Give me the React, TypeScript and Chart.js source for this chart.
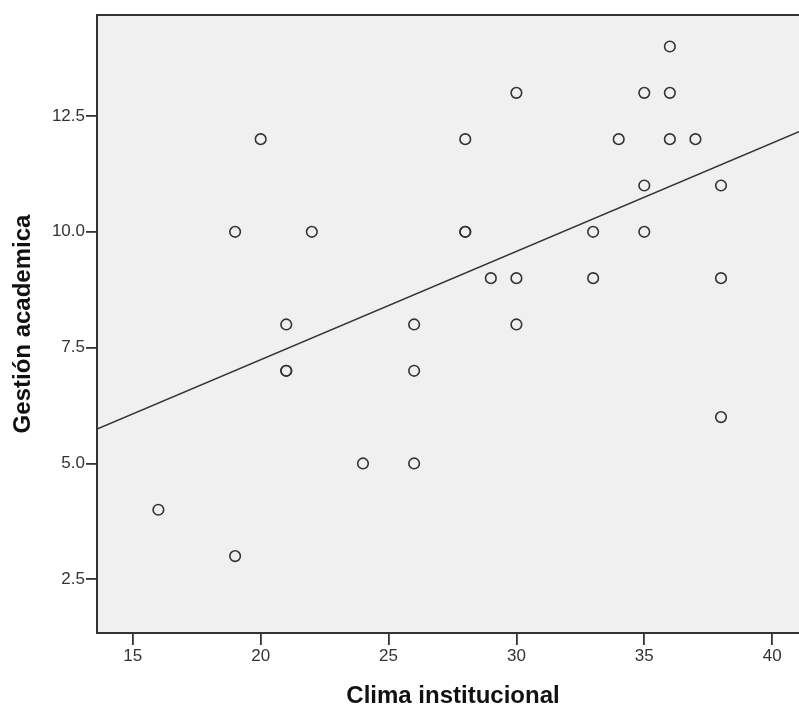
import React, { useEffect, useRef } from "react";
import { Chart, registerables } from "chart.js";

Chart.register(...registerables);

const climaValues = [16, 19, 19, 20, 21, 21, 21, 22, 24, 26, 26, 26, 28, 28, 28, 29, 30, 30, 30, 33, 33, 34, 35, 35, 35, 36, 36, 36, 37, 38, 38, 38];
const gestionValues = [4, 3, 10, 12, 8, 7, 7, 10, 5, 8, 7, 5, 12, 10, 10, 9, 13, 9, 8, 10, 9, 12, 13, 11, 10, 14, 13, 12, 12, 11, 9, 6];
const xTickValues = [15, 20, 25, 30, 35, 40];
const yTickValues = [2.5, 5.0, 7.5, 10.0, 12.5];
const xTitle = "Clima institucional";
const yTitle = "Gestión academica";
const xMin = 13.6;
const xMax = 41.05;
const yMin = 1.34;
const yMax = 14.68;

function fitLine(xs: number[], ys: number[]) {
  const n = xs.length;
  const mx = xs.reduce((a, b) => a + b, 0) / n;
  const my = ys.reduce((a, b) => a + b, 0) / n;
  let sxy = 0, sxx = 0;
  for (let i = 0; i < n; i++) {
    sxy += (xs[i] - mx) * (ys[i] - my);
    sxx += (xs[i] - mx) * (xs[i] - mx);
  }
  const slope = sxy / sxx;
  return { slope, intercept: my - slope * mx };
}

const plotFrame = {
  id: "plotFrame",
  beforeDraw(chart: any) {
    const { ctx, chartArea: a } = chart;
    ctx.save();
    ctx.fillStyle = "#f0f0f0";
    ctx.fillRect(a.left, a.top, a.right - a.left, a.bottom - a.top);
    ctx.restore();
  },
  afterDatasetsDraw(chart: any) {
    const { ctx, chartArea: a } = chart;
    ctx.save();
    ctx.strokeStyle = "#333333";
    ctx.lineWidth = 2;
    ctx.beginPath();
    ctx.moveTo(a.right + 2, a.top);
    ctx.lineTo(a.left, a.top);
    ctx.lineTo(a.left, a.bottom);
    ctx.lineTo(a.right + 2, a.bottom);
    ctx.stroke();
    ctx.restore();
  },
  afterDraw(chart: any) {
    const { ctx, chartArea: a } = chart;
    ctx.save();
    ctx.fillStyle = "#111111";
    ctx.font = "bold 24px Arial, 'Liberation Sans'";
    ctx.textAlign = "center";
    ctx.textBaseline = "alphabetic";
    ctx.fillText(xTitle, (a.left + a.right) / 2 + 5, chart.height - 2);
    ctx.restore();
  },
};

export default function App() {
  const ref = useRef<HTMLCanvasElement | null>(null);
  useEffect(() => {
    if (!ref.current) return;
    const { slope, intercept } = fitLine(climaValues, gestionValues);
    const points = climaValues.map((x, i) => ({ x, y: gestionValues[i] }));
    const chart = new Chart(ref.current, {
      type: "scatter",
      data: {
        datasets: [
          {
            type: "line",
            data: [
              { x: xMin, y: intercept + slope * xMin },
              { x: xMax, y: intercept + slope * xMax },
            ],
            borderColor: "#333333",
            borderWidth: 1.5,
            pointRadius: 0,
            fill: false,
          } as any,
          {
            data: points,
            backgroundColor: "rgba(0,0,0,0)",
            borderColor: "#333333",
            borderWidth: 1.6,
            pointRadius: 5.3,
          },
        ],
      },
      plugins: [plotFrame],
      options: {
        animation: false,
        responsive: false,
        layout: { autoPadding: false, padding: { top: 15, right: 0, left: 0, bottom: 0 } },
        plugins: { legend: { display: false }, tooltip: { enabled: false } },
        scales: {
          x: {
            type: "linear",
            min: xMin,
            max: xMax,
            afterFit: (s: any) => { s.height = 72; s.paddingRight = 0; s.paddingLeft = 0; },
            afterBuildTicks: (s: any) => { s.ticks = xTickValues.map((v) => ({ value: v })); },
            grid: { display: true, drawOnChartArea: false, drawTicks: true, tickLength: 12, color: "#333333", lineWidth: 1.8 },
            border: { display: false },
            ticks: { padding: 1, color: "#333333", font: { family: "Arial, 'Liberation Sans'", size: 17 }, callback: (v: any) => String(v) },
            title: { display: false, text: xTitle },
          },
          y: {
            type: "linear",
            min: yMin,
            max: yMax,
            afterFit: (s: any) => { s.width = 97; s.paddingTop = 0; s.paddingBottom = 0; },
            afterBuildTicks: (s: any) => { s.ticks = yTickValues.map((v) => ({ value: v })); },
            grid: { display: true, drawOnChartArea: false, drawTicks: true, tickLength: 11, color: "#333333", lineWidth: 1.8 },
            border: { display: false },
            ticks: { padding: 1, color: "#333333", font: { family: "Arial, 'Liberation Sans'", size: 17 }, callback: (v: any) => Number(v).toFixed(1) },
            title: { display: true, text: yTitle, color: "#111111", padding: { top: 9, bottom: 0 }, font: { family: "Arial, 'Liberation Sans'", size: 24, weight: "bold" } },
          },
        },
      },
    });
    return () => chart.destroy();
  }, []);
  return (
    <div style={{ position: "absolute", left: 0, top: 0, width: 799, height: 705, background: "#ffffff" }}>
      <canvas ref={ref} width={799} height={705} style={{ display: "block" }} />
    </div>
  );
}
